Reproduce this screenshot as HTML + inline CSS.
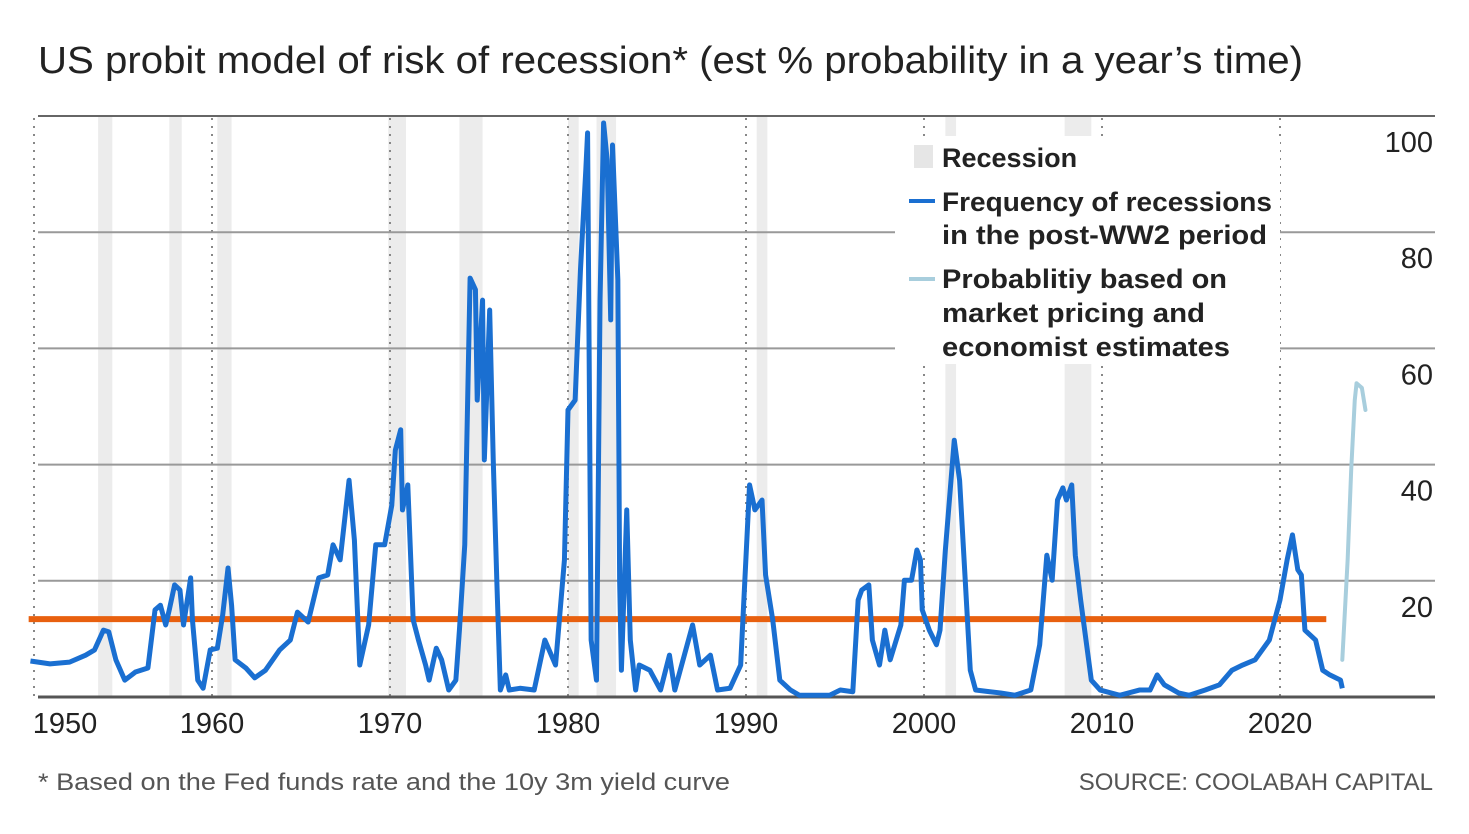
<!DOCTYPE html>
<html><head><meta charset="utf-8"><style>
body{margin:0;background:#fff;width:1469px;height:834px;overflow:hidden;font-family:"Liberation Sans",sans-serif}
svg{position:absolute;left:0;top:0}
</style></head><body>
<svg id="chart" width="1469" height="834">
<text x="38" y="73" font-size="38" fill="#222" textLength="1265" lengthAdjust="spacingAndGlyphs">US probit model of risk of recession* (est % probability in a year’s time)</text>
<g id="shades"></g><g id="vgrid"></g><g id="hgrid"></g>
<rect x="895" y="136" width="385" height="228" fill="#fff"/>
<g id="series"></g><g id="labels"></g>
<g font-size="27" font-weight="bold" fill="#222">
<rect x="914" y="145" width="19" height="23" fill="#e6e6e6"/>
<text x="942" y="167">Recession</text>
<line x1="909" y1="201" x2="935" y2="201" stroke="#1a6fd1" stroke-width="4"/>
<text x="942" y="211" textLength="330" lengthAdjust="spacingAndGlyphs">Frequency of recessions</text>
<text x="942" y="244" textLength="325" lengthAdjust="spacingAndGlyphs">in the post-WW2 period</text>
<line x1="909" y1="279" x2="935" y2="279" stroke="#a8cedd" stroke-width="4"/>
<text x="942" y="288" textLength="285" lengthAdjust="spacingAndGlyphs">Probablitiy based on</text>
<text x="942" y="322" textLength="263" lengthAdjust="spacingAndGlyphs">market pricing and</text>
<text x="942" y="356" textLength="288" lengthAdjust="spacingAndGlyphs">economist estimates</text>
</g>
<text x="38" y="790" font-size="24" fill="#555" textLength="692" lengthAdjust="spacingAndGlyphs">* Based on the Fed funds rate and the 10y 3m yield curve</text>
<text x="1433" y="790" font-size="24" fill="#555" text-anchor="end">SOURCE: COOLABAH CAPITAL</text>
</svg>
<script>
const years=[1949.8,1950.9,1952.0,1952.9,1953.4,1953.9,1954.2,1954.6,1955.1,1955.7,1956.4,1956.8,1957.1,1957.4,1957.6,1957.9,1958.2,1958.4,1958.8,1958.9,1959.2,1959.5,1959.9,1960.3,1960.6,1960.9,1961.1,1961.3,1961.9,1962.4,1963.0,1963.8,1964.4,1964.8,1965.4,1966.0,1966.5,1966.8,1967.2,1967.7,1968.0,1968.3,1968.8,1969.2,1969.7,1970.1,1970.3,1970.6,1970.7,1971.0,1971.3,1971.6,1972.0,1972.2,1972.6,1972.9,1973.3,1973.7,1973.9,1974.2,1974.5,1974.8,1974.9,1975.2,1975.3,1975.6,1975.8,1976.0,1976.2,1976.5,1976.7,1977.3,1978.1,1978.7,1979.3,1979.8,1980.0,1980.4,1980.7,1981.0,1981.1,1981.3,1981.6,1981.8,1982.0,1982.2,1982.4,1982.5,1982.8,1982.9,1983.0,1983.3,1983.5,1983.8,1984.0,1984.6,1985.2,1985.7,1986.0,1987.0,1987.4,1988.0,1988.4,1989.1,1989.7,1990.2,1990.5,1990.9,1991.1,1991.5,1991.9,1992.5,1993.0,1994.7,1995.3,1996.0,1996.3,1996.5,1996.9,1997.1,1997.5,1997.8,1998.1,1998.7,1998.9,1999.3,1999.6,1999.8,1999.9,2000.3,2000.7,2000.9,2001.2,2001.7,2002.0,2002.3,2002.6,2002.9,2003.7,2004.3,2005.1,2006.0,2006.5,2006.9,2007.2,2007.5,2007.8,2008.0,2008.3,2008.5,2008.8,2009.1,2009.4,2009.9,2011.0,2012.1,2012.7,2013.1,2013.5,2014.3,2014.9,2015.8,2016.6,2017.3,2017.9,2018.6,2019.4,2020.0,2020.4,2020.7,2021.0,2021.2,2021.4,2022.0,2022.4,2022.8,2023.4,2023.5];
const values=[6.2,5.7,6.0,7.2,8.1,11.5,11.2,6.4,2.9,4.3,5.0,15.0,15.8,12.4,15.0,19.3,18.4,12.4,20.5,13.3,2.9,1.5,8.1,8.4,14.1,22.2,15.8,6.4,5.0,3.3,4.6,8.1,9.8,14.6,12.9,20.5,21.0,26.2,23.6,37.3,27.0,5.5,12.4,26.2,26.2,33.0,42.5,46.0,32.2,36.5,13.3,9.8,5.5,2.9,8.4,6.4,1.2,2.9,11.5,26.2,72.1,70.1,51.1,68.3,40.8,66.6,40.8,20.1,1.2,3.8,1.2,1.5,1.2,9.8,5.5,23.6,49.4,51.1,73.5,90.7,97.1,9.8,2.9,68.3,98.8,92.4,64.9,95.0,71.8,20.1,4.6,32.2,9.8,1.2,5.5,4.6,1.2,7.2,1.2,12.4,5.5,7.2,1.2,1.5,5.5,36.5,32.2,33.9,21.0,13.3,2.9,1.2,0.3,0.3,1.2,0.9,16.7,18.4,19.3,9.8,5.5,11.5,6.4,12.4,20.1,20.1,25.3,23.6,15.0,11.5,9.0,11.5,25.3,44.2,37.3,21.0,4.6,1.2,0.9,0.7,0.3,1.2,9.0,24.4,20.1,33.9,36.0,33.9,36.5,24.4,16.7,9.8,2.9,1.2,0.3,1.2,1.2,3.8,2.1,0.7,0.3,1.2,2.1,4.6,5.5,6.4,9.8,16.7,23.6,27.9,21.9,21.0,11.5,9.8,4.6,3.8,2.9,1.5];
const mktYears=[2023.5,2023.8,2024.0,2024.2,2024.3,2024.6,2024.8];
const mktValues=[6.4,23.6,39.1,51.1,54.0,53.2,49.4];
const threshold=[13.4];
const thrYears=[1949.7,2022.6];
const recStart=[1953.6,1957.6,1960.3,1969.9,1973.9,1980.0,1981.6,1990.6,2001.2,2007.9];
const recEnd=[1954.4,1958.3,1961.1,1970.9,1975.2,1980.6,1982.7,1991.2,2001.8,2009.4];
const yTicks=[20,40,60,80,100];
const xTicks=[1950,1960,1970,1980,1990,2000,2010,2020];
const xTickLabels=["1950","1960","1970","1980","1990","2000","2010","2020"];

const X=y=>212+(y-1960)*17.8;
const Y=v=>697-v*5.81;
const NS="http://www.w3.org/2000/svg";
function mk(tag,parent,attrs){const e=document.createElementNS(NS,tag);for(const k in attrs)e.setAttribute(k,attrs[k]);document.getElementById(parent).appendChild(e);return e;}

recStart.forEach((s,i)=>{
  const r=mk('rect','shades',{x:X(s),y:116,width:X(recEnd[i])-X(s),height:581,fill:'#ececec'});
  
  
});
xTicks.forEach((t,i)=>{
  const l=mk('line','vgrid',{x1:X(t),x2:X(t),y1:118,y2:697,stroke:'#888','stroke-width':2,'stroke-dasharray':'2 6'});
  
  
  const tx=mk('text','labels',{x:t===1950?65:X(t),y:733,'font-size':29,fill:'#222','text-anchor':'middle'});
  tx.textContent=xTickLabels[i];
  
  
});
yTicks.forEach(v=>{
  const l=mk('line','hgrid',{x1:38,x2:1435,y1:Y(v),y2:Y(v),stroke:v===100?'#666':'#999','stroke-width':2});
  
  
  const tx=mk('text','labels',{x:1433,y:Y(v)+36,'font-size':29,fill:'#222','text-anchor':'end'});
  tx.textContent=String(v);
  
  
});
const base=mk('line','hgrid',{x1:38,x2:1435,y1:Y(0),y2:Y(0),stroke:'#555','stroke-width':3});



const thr=mk('line','series',{x1:X(thrYears[0]),x2:X(thrYears[1]),y1:Y(threshold[0]),y2:Y(threshold[0]),stroke:'#e8600f','stroke-width':6});



const mkt=mk('polyline','series',{points:mktYears.map((y,i)=>X(y)+','+Y(mktValues[i])).join(' '),fill:'none',stroke:'#a8cedd','stroke-width':4,'stroke-linejoin':'round','stroke-linecap':'round'});



const ln=mk('polyline','series',{points:years.map((y,i)=>X(y)+','+Y(values[i])).join(' '),fill:'none',stroke:'#1a6fd1','stroke-width':5,'stroke-linejoin':'round'});


</script>
</body></html>
